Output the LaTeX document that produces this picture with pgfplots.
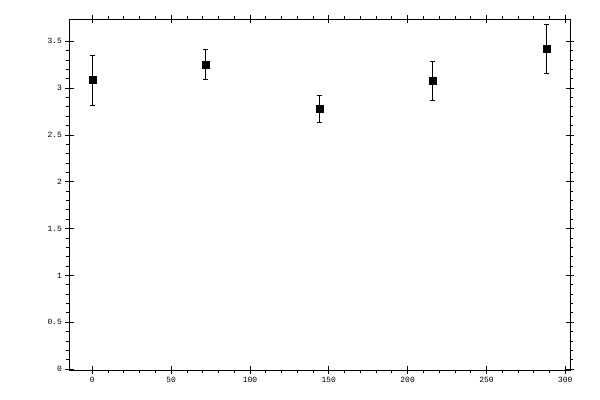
\documentclass[border=0pt]{standalone}
\usepackage{fontspec}
\setmonofont{Liberation Mono}
\usepackage{pgfplots}
\pgfplotsset{compat=1.18}

\begin{document}
\begin{tikzpicture}
\useasboundingbox (0,0) rectangle (600bp,400bp);
\begin{axis}[
    scale only axis,
    width=500.5bp, height=351bp,
    at={(69.5bp,30bp)}, anchor=south west,
    xmin=-14.5, xmax=303,
    ymin=-0.01, ymax=3.738,
    xtick={0,50,...,300},
    ytick={0,0.5,...,3.5},
    minor x tick num=4,
    minor y tick num=4,
    tick align=outside,
    major tick length=4bp,
    minor tick length=3bp,
    extra x ticks={0,50,...,300},
    extra y ticks={0,0.5,...,3.5},
    extra tick style={tick align=inside, major tick length=4bp},
    extra x tick labels={},
    extra y tick labels={},
    xtick pos=both, ytick pos=both,
    xticklabel pos=lower, yticklabel pos=left,
    axis line style={line width=0.8bp},
    every tick/.style={black, line width=0.8bp},
    ticklabel style={font=\ttfamily\fontsize{8}{8}\selectfont},
    /pgf/number format/assume math mode=true,
    yticklabel style={/pgf/number format/fixed},
    scaled ticks=false,
]
\addplot[
    only marks, mark=square*, mark size=3.5bp, black,
    error bars/.cd, y dir=both, y explicit,
    error bar style={line width=0.8bp, black},
    error mark options={rotate=90, mark size=2.6bp, line width=0.8bp, black},
] coordinates {
    (0,3.085) +- (0,0.267)
    (72,3.255) +- (0,0.161)
    (144,2.780) +- (0,0.145)
    (216,3.080) +- (0,0.207)
    (288,3.420) +- (0,0.260)
};
\end{axis}
\end{tikzpicture}
\end{document}
